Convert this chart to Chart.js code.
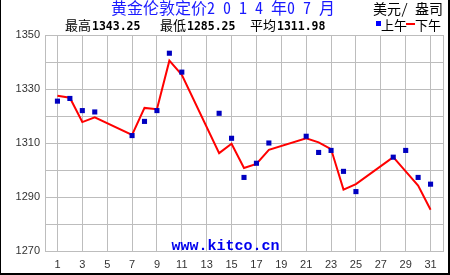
<!DOCTYPE html>
<html><head><meta charset="utf-8">
<script src="https://cdn.jsdelivr.net/npm/chart.js@4.4.1/dist/chart.umd.min.js"></script>
<style>
html,body{margin:0;padding:0;background:#fff;}
#wrap{position:relative;width:450px;height:275px;overflow:hidden;}
#c{position:absolute;left:0;top:0;}
.b{position:absolute;background:#000;}
</style></head>
<body>
<div id="wrap">
<canvas id="c" width="450" height="275"></canvas>
<div class="b" style="left:0;top:0;width:1px;height:275px"></div>
<div class="b" style="left:448px;top:0;width:2px;height:275px"></div>
<div class="b" style="left:0;top:273px;width:450px;height:2px"></div>
</div>
<script>
const titleText = "黄金伦敦定价2 0 1 4 年0 7 月";
const unitText = "美元/ 盎司";
const statLabels = ["最高", "最低", "平均"];
const statValues = ["1343.25", "1285.25", "1311.98"];
const seriesNames = ["上午", "下午"];
const watermark = "www.kitco.cn";

const days = [1,2,3,4,7,8,9,10,11,14,15,16,17,18,21,22,23,24,25,28,29,30,31];
const amValues = [1325.5,1326.5,1322,1321.5,1312.75,1318,1322,1343.25,1336.25,1321,1311.75,1297.25,1302.5,1310,1312.5,1306.5,1307.25,1299.5,1292,1304.75,1307.25,1297.25,1294.75];
const pmValues = [1327.5,1326.75,1317.75,1319.5,1313,1323,1322.5,1340.5,1335.25,1306.25,1309.75,1300.75,1302.25,1307.5,1311.75,1310.25,1307.75,1292.75,1294.75,1304.75,1299.5,1294.25,1285.25];
const xTickValues = [0,1,3,5,7,9,11,13,15,17,19,21,23,25,27,29,31,32];
const yMin = 1270, yMax = 1350, yStep = 10;

const CJK = '"Noto Sans Mono CJK SC","Noto Sans CJK SC",sans-serif';

const headerPlugin = {
  id: 'header',
  beforeDatasetsDraw(chart) {
    const ctx = chart.ctx;
    ctx.save();
    ctx.fillStyle = '#0000ee';
    ctx.font = 'bold 15px "Liberation Mono", monospace';
    ctx.textAlign = 'center';
    ctx.textBaseline = 'alphabetic';
    ctx.fillText(watermark, 225.5, 250);
    ctx.restore();
  },
  afterDraw(chart) {
    const ctx = chart.ctx;
    ctx.save();
    ctx.textBaseline = 'alphabetic';
    // title
    ctx.fillStyle = '#1a1aff';
    ctx.font = '16px ' + CJK;
    ctx.textAlign = 'center';
    ctx.fillText(titleText, 223, 14);
    // unit
    ctx.fillStyle = '#000';
    ctx.font = '14px ' + CJK;
    ctx.textAlign = 'right';
    ctx.fillText(unitText, 443, 14);
    // stats
    const lx = [65, 160, 250];
    ctx.textAlign = 'left';
    for (let i = 0; i < 3; i++) {
      ctx.font = '13px ' + CJK;
      ctx.fillText(statLabels[i], lx[i], 30);
      const w = ctx.measureText(statLabels[i]).width;
      ctx.font = 'bold 11.5px "DejaVu Sans Mono", monospace';
      ctx.fillText(statValues[i], lx[i] + w + 1, 30);
    }
    // legend
    ctx.fillStyle = '#0000ff';
    ctx.fillRect(376, 21, 5, 5);
    ctx.fillStyle = '#000';
    ctx.font = '13px ' + CJK;
    ctx.fillText(seriesNames[0], 381, 30);
    ctx.fillStyle = '#ff0000';
    ctx.fillRect(406, 23, 9, 2);
    ctx.fillStyle = '#000';
    ctx.fillText(seriesNames[1], 415, 30);
    ctx.restore();
  }
};

new Chart(document.getElementById('c'), {
  type: 'line',
  data: {
    datasets: [
      {
        label: seriesNames[0],
        data: days.map((d, i) => ({x: d, y: amValues[i]})),
        showLine: false,
        pointStyle: 'rect',
        pointRadius: 3.6,
        pointBorderWidth: 0,
        pointBackgroundColor: '#0000c0',
        pointBorderColor: '#0000c0',
        order: 0
      },
      {
        label: seriesNames[1],
        data: days.map((d, i) => ({x: d, y: pmValues[i]})),
        borderColor: '#ff0000',
        borderWidth: 2,
        pointRadius: 0,
        tension: 0,
        fill: false,
        order: 1
      }
    ]
  },
  options: {
    responsive: false,
    animation: false,
    devicePixelRatio: 1,
    layout: {padding: {top: 35, right: 5, left: 0, bottom: 0}},
    plugins: {legend: {display: false}, tooltip: {enabled: false}, title: {display: false}},
    scales: {
      x: {
        type: 'linear', min: 0, max: 32,
        afterBuildTicks: s => { s.ticks = xTickValues.map(v => ({value: v})); },
        afterFit: s => { s.height = 24; },
        grid: {color: '#bdbdbd', lineWidth: 1, drawTicks: false},
        border: {display: true, color: '#bdbdbd'},
        ticks: {
          padding: 7, autoSkip: false, maxRotation: 0,
          color: '#333', font: {family: '"Liberation Sans", sans-serif', size: 11},
          callback: v => (v >= 1 && v <= 31 && v % 2 === 1) ? String(v) : ''
        }
      },
      y: {
        type: 'linear', min: yMin, max: yMax,
        afterFit: s => { s.width = 45; },
        grid: {color: '#bdbdbd', lineWidth: 1, drawTicks: false},
        border: {display: true, color: '#bdbdbd'},
        ticks: {
          stepSize: yStep, padding: 5,
          color: '#333', font: {family: '"Liberation Sans", sans-serif', size: 11},
          callback: v => (v % 20 === 10) ? String(v) : ''
        }
      }
    }
  },
  plugins: [headerPlugin]
});
</script>
</body></html>
